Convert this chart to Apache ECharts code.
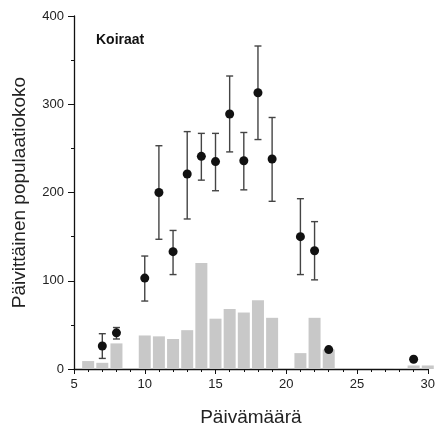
<!DOCTYPE html>
<html><head><meta charset="utf-8">
<script src="https://cdn.jsdelivr.net/npm/echarts@6/dist/echarts.min.js"></script>
<style>html,body{margin:0;padding:0;background:#fff}#c{width:438px;height:432px}</style>
</head><body><div id="c"></div>
<script>
// Bars: daily counts
const barDays = [6, 7, 8, 10, 11, 12, 13, 14, 15, 16, 17, 18, 19, 21, 22, 23, 28, 29, 30];
const barValues = [9, 7, 29, 38, 37, 34, 44, 120, 57, 68, 64, 78, 58, 18, 58, 22, 1, 4, 4];
// Points: population estimates with error bars
const pointDays = [7, 8, 10, 11, 12, 13, 14, 15, 16, 17, 18, 19, 21, 22, 23, 29];
const pointValues = [26, 41, 103, 200, 133, 221, 241, 235, 289, 236, 313, 238, 150, 134, 22, 11];
const errLow = [12, 34, 77, 147, 107, 170, 214, 202, 246, 203, 260, 190, 107, 101, null, null];
const errHigh = [40, 47, 128, 253, 157, 269, 267, 267, 332, 268, 366, 285, 193, 167, null, null];
const xTicks = [5, 10, 15, 20, 25, 30];
const yTicks = [0, 100, 200, 300, 400];

const chart = echarts.init(document.getElementById('c'), null, {renderer: 'canvas'});
const font = 'Arial, "Liberation Sans", sans-serif';
const errData = [];
pointDays.forEach((d, i) => { if (errLow[i] != null) errData.push([d, errLow[i], errHigh[i]]); });

chart.setOption({
  animation: false,
  grid: {left: 74, right: 6, top: 16, bottom: 59, containLabel: false},
  graphic: [{type: 'text', left: 96, top: 33, style: {text: 'Koiraat', font: 'bold 14px ' + font, fill: '#111'}}],
  xAxis: {
    type: 'value', min: xTicks[0], max: xTicks[xTicks.length - 1], interval: 5,
    name: 'Päivämäärä', nameLocation: 'middle', nameGap: 39,
    nameTextStyle: {fontSize: 19, fontFamily: font, color: '#222'},
    axisLine: {show: true, onZero: false, lineStyle: {color: '#111', width: 1.3}},
    axisTick: {show: true, length: 5, lineStyle: {color: '#111'}},
    minorTick: {show: true, splitNumber: 5, length: 3, lineStyle: {color: '#111'}},
    axisLabel: {fontSize: 13, fontFamily: font, color: '#222', margin: 9},
    splitLine: {show: false}
  },
  yAxis: {
    type: 'value', min: yTicks[0], max: yTicks[yTicks.length - 1], interval: 100,
    name: 'Päivittäinen populaatiokoko', nameLocation: 'middle', nameGap: 45,
    nameTextStyle: {fontSize: 19, fontFamily: font, color: '#222'},
    axisLine: {show: true, lineStyle: {color: '#111', width: 1.3}},
    axisTick: {show: true, length: 6, lineStyle: {color: '#111'}},
    minorTick: {show: true, splitNumber: 2, length: 3, lineStyle: {color: '#111'}},
    axisLabel: {fontSize: 13, fontFamily: font, color: '#222', margin: 10},
    splitLine: {show: false}
  },
  series: [
    {
      type: 'bar', data: barDays.map((d, i) => [d, barValues[i]]),
      barWidth: 12, itemStyle: {color: '#c8c8c8'}, clip: true, z: 1
    },
    {
      type: 'custom', data: errData, z: 2,
      renderItem: function (params, api) {
        const x = api.value(0);
        const lo = api.coord([x, api.value(1)]);
        const hi = api.coord([x, api.value(2)]);
        const cw = 3.5;
        const st = {stroke: '#444', lineWidth: 1.4};
        return {type: 'group', children: [
          {type: 'line', shape: {x1: lo[0], y1: lo[1], x2: hi[0], y2: hi[1]}, style: st},
          {type: 'line', shape: {x1: lo[0] - cw, y1: lo[1], x2: lo[0] + cw, y2: lo[1]}, style: st},
          {type: 'line', shape: {x1: hi[0] - cw, y1: hi[1], x2: hi[0] + cw, y2: hi[1]}, style: st}
        ]};
      }
    },
    {
      type: 'scatter', data: pointDays.map((d, i) => [d, pointValues[i]]),
      symbol: 'circle', symbolSize: 9, itemStyle: {color: '#111', opacity: 1}, z: 3
    }
  ]
});
</script></body></html>
